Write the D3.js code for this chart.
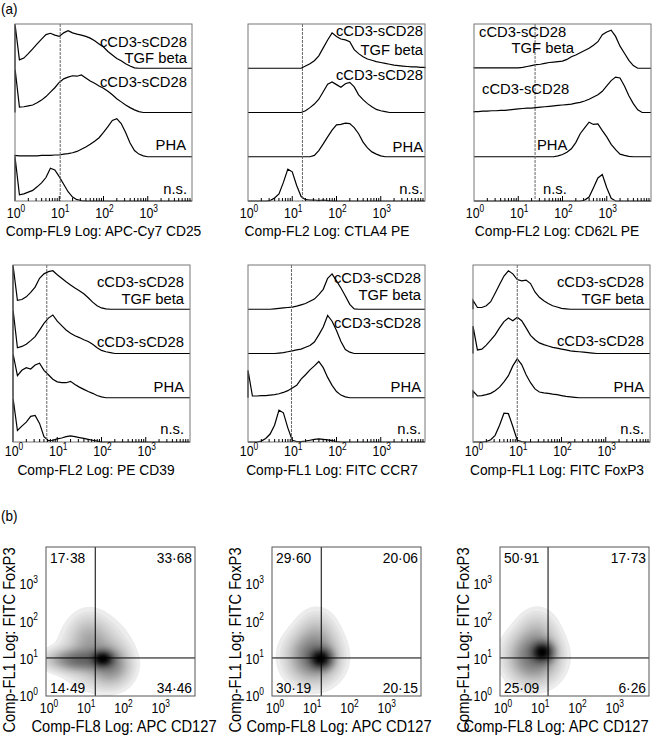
<!DOCTYPE html>
<html><head><meta charset="utf-8">
<script src="https://cdn.jsdelivr.net/npm/d3@7"></script>
<style>
body{margin:0;background:#fff}
svg text{font-family:"Liberation Sans",Arial,Helvetica,sans-serif;fill:#000}
</style>
</head><body>
<svg id="c" width="652" height="741"></svg>
<script>
// ---------------- DATA ----------------
// sampling grid: log10 intensity 0..4 in steps of 0.1 (41 positions)
const logSteps = d3.range(0, 41).map(i => i / 10);
const laneNames = ["cCD3-sCD28 TGF beta", "cCD3-sCD28", "PHA", "n.s."];
const histTitles = ["Comp-FL9 Log: APC-Cy7 CD25", "Comp-FL2 Log: CTLA4 PE", "Comp-FL2 Log: CD62L PE",
                    "Comp-FL2 Log: PE CD39", "Comp-FL1 Log: FITC CCR7", "Comp-FL1 Log: FITC FoxP3"];
const gateLines = [10.5, 17, 24, 5.8, 9.6, 10]; // dashed positive-gate marker
const tickExps = [0, 1, 2, 3];

// histogram heights (fraction of lane height) at logSteps; trailing zeros omitted
const cd25 = [
 [1.0,0.19,0.23,0.33,0.44,0.55,0.66,0.76,0.79,0.75,0.72,0.80,0.85,0.80,0.77,0.75,0.72,0.68,0.62,0.55,0.48,0.38,0.30,0.22,0.17,0.10,0.05,0.01],
 [1.0,0.12,0.13,0.15,0.17,0.22,0.28,0.36,0.46,0.56,0.68,0.76,0.80,0.83,0.82,0.85,0.78,0.71,0.66,0.60,0.55,0.48,0.40,0.31,0.24,0.17,0.11,0.06,0.02],
 [0.03,0.02,0.02,0.02,0.02,0.02,0.03,0.03,0.03,0.04,0.04,0.06,0.07,0.09,0.12,0.17,0.22,0.28,0.35,0.43,0.55,0.68,0.82,0.86,0.75,0.55,0.31,0.14,0.06,0.02],
 [1.0,0.14,0.16,0.20,0.24,0.32,0.41,0.53,0.74,0.70,0.55,0.38,0.21,0.09,0.03,0.01]
];
const ctla4 = [
 [0,0,0,0,0,0,0,0,0,0,0,0,0,0.05,0.10,0.17,0.28,0.46,0.64,0.80,0.72,0.66,0.64,0.60,0.42,0.33,0.26,0.21,0.18,0.15,0.13,0.11,0.09,0.07,0.06,0.05,0.04,0.03,0.03,0.02,0.02],
 [0,0,0,0,0,0,0,0,0,0,0,0,0,0.04,0.11,0.19,0.30,0.47,0.64,0.69,0.63,0.57,0.65,0.68,0.58,0.40,0.29,0.20,0.13,0.07,0.04,0.02],
 [0,0,0,0,0,0,0,0,0,0,0,0,0,0,0,0.03,0.14,0.29,0.45,0.60,0.72,0.73,0.76,0.75,0.66,0.52,0.33,0.20,0.11,0.06,0.02],
 [0,0,0,0,0,0.01,0.07,0.16,0.42,0.72,0.66,0.35,0.10,0.03,0.02,0.02,0.01,0.02,0.01]
];
const cd62l = [
 [0.01,0.01,0.01,0.01,0.01,0.01,0.01,0.01,0.01,0.01,0.01,0.02,0.04,0.06,0.08,0.09,0.11,0.13,0.14,0.15,0.16,0.20,0.26,0.30,0.35,0.40,0.45,0.52,0.60,0.76,0.82,0.86,0.72,0.50,0.34,0.18,0.06],
 [0.02,0.02,0.03,0.03,0.04,0.04,0.05,0.05,0.06,0.07,0.08,0.09,0.10,0.10,0.11,0.12,0.13,0.14,0.15,0.16,0.17,0.18,0.19,0.21,0.23,0.26,0.30,0.35,0.40,0.48,0.60,0.72,0.80,0.78,0.60,0.38,0.20,0.06],
 [0,0,0,0,0,0,0,0,0,0,0,0,0,0,0,0,0,0,0,0.02,0.05,0.10,0.18,0.32,0.52,0.65,0.78,0.73,0.74,0.59,0.45,0.28,0.16,0.06,0.03,0.01],
 [0,0,0,0,0,0,0,0,0,0,0,0,0,0,0,0,0,0,0,0,0,0,0,0,0,0.02,0.09,0.30,0.52,0.60,0.30,0.06]
];
const cd39 = [
 [1.0,0.20,0.22,0.28,0.38,0.50,0.70,0.80,0.85,0.87,0.78,0.70,0.62,0.55,0.48,0.42,0.35,0.26,0.16,0.08,0.03,0.01],
 [1.0,0.13,0.16,0.21,0.29,0.38,0.53,0.68,0.80,0.87,0.73,0.63,0.53,0.46,0.40,0.36,0.31,0.27,0.21,0.13,0.07,0.04,0.02],
 [1.0,0.50,0.62,0.68,0.65,0.74,0.78,0.62,0.52,0.42,0.36,0.34,0.34,0.37,0.30,0.24,0.19,0.14,0.10,0.05,0.02],
 [1.0,0.26,0.36,0.45,0.58,0.60,0.42,0.12,0.03,0.04,0.07,0.09,0.12,0.14,0.12,0.10,0.08,0.06,0.04,0.02]
];
const ccr7 = [
 [0,0,0,0,0,0,0.01,0.02,0.03,0.04,0.05,0.07,0.10,0.13,0.18,0.23,0.33,0.45,0.70,0.80,0.64,0.48,0.30,0.11,0.01],
 [0,0,0,0,0,0,0,0.01,0.02,0.04,0.06,0.08,0.10,0.14,0.18,0.26,0.42,0.60,0.86,0.73,0.52,0.27,0.09,0.03],
 [0.62,0.04,0.04,0.05,0.05,0.06,0.07,0.09,0.12,0.16,0.22,0.28,0.42,0.52,0.63,0.72,0.82,0.68,0.46,0.28,0.14,0.06,0.02],
 [0,0,0,0.02,0.08,0.18,0.38,0.72,0.66,0.32,0.04,0.01,0.01,0.02,0.04,0.06,0.07,0.06,0.05,0.03,0.01]
];
const foxp3 = [
 [0.20,0.04,0.04,0.08,0.17,0.36,0.56,0.75,0.87,0.80,0.67,0.64,0.66,0.58,0.39,0.27,0.19,0.13,0.08,0.05,0.02,0.01],
 [0.62,0.08,0.10,0.19,0.30,0.42,0.58,0.72,0.80,0.74,0.82,0.74,0.58,0.41,0.31,0.24,0.20,0.17,0.14,0.12,0.10,0.08,0.06,0.05,0.04,0.03,0.02,0.01],
 [0.15,0.04,0.05,0.07,0.10,0.16,0.24,0.36,0.50,0.72,0.88,0.75,0.52,0.34,0.20,0.13,0.11,0.10,0.08,0.07,0.05,0.03,0.02,0.01],
 [0,0,0,0.01,0.05,0.15,0.38,0.65,0.64,0.35,0.04,0.01]
];

// panel (b): quadrant percentages [UL, UR, LL, LR]
const quadValues = [
 ["17·38", "33·68", "14·49", "34·46"],
 ["29·60", "20·06", "30·19", "20·15"],
 ["50·91", "17·73", "25·09", "6·26"]
];
const quadGateX = [21, 21, 19.5];
const quadGateY = [10.5, 10.5, 10.5];
// density blobs: [log x centre, log y centre, sd x, sd y, weight]
const densityB1 = [[1.53,1.0,0.17,0.13,1.0],[0.85,0.97,0.45,0.17,0.45],[1.3,1.15,0.45,0.45,0.22],[1.15,1.65,0.3,0.35,0.1],[1.75,0.8,0.3,0.3,0.3]];
const densityB2 = [[1.32,1.0,0.18,0.16,1.0],[1.1,1.05,0.38,0.38,0.45],[1.2,1.7,0.3,0.35,0.1]];
const densityB3 = [[1.15,1.18,0.17,0.16,1.0],[0.9,1.05,0.38,0.38,0.45],[1.0,1.7,0.3,0.35,0.1]];
const scatterXTitle = "Comp-FL8 Log: APC CD127";
const scatterYTitle = "Comp-FL1 Log: FITC FoxP3";

// ---------------- LAYOUT ----------------
const svg = d3.select("#c");
const pad41 = a => a.concat(Array(Math.max(0, 41 - a.length)).fill(0));
const histData = [cd25, ctla4, cd62l, cd39, ccr7, foxp3];

function txt(g, x, y, s, size, sx, anchor, rot) {
  return g.append("text")
    .attr("transform", `translate(${x},${y})${rot ? " rotate(" + rot + ")" : ""} scale(${sx},1)`)
    .attr("text-anchor", anchor || "start").attr("font-size", size).text(s);
}
function tickLabel(g, x, y, e, anchor) {
  const t = g.append("text").attr("transform", `translate(${x},${y}) scale(0.8,1)`)
    .attr("text-anchor", anchor || "middle").attr("font-size", 15.5);
  t.append("tspan").text("10");
  t.append("tspan").attr("dy", -6.5).attr("font-size", 10.5).text(String(e));
  return t;
}

const histLayout = [
 {left:15, top:24, tickY:218, titleY:236, titleX:103.5},
 {left:248, top:24, tickY:218, titleY:236, titleX:327},
 {left:474, top:24, tickY:218, titleY:236, titleX:557},
 {left:13, top:265, tickY:456, titleY:475, titleX:96},
 {left:248, top:265, tickY:456, titleY:475, titleX:332},
 {left:473, top:265, tickY:456, titleY:475, titleX:557}
];
const labelPos = [
 [[187,47,"end"],[187,63,"end"],[187,87,"end"],[186,150,"end"],[187,194,"end"]],
 [[423,36,"end"],[423,55,"end"],[423,80,"end"],[423,152,"end"],[423,194,"end"]],
 [[479,37,"start"],[574,53,"end"],[482,94,"start"],[537,150,"start"],[543,194,"start"]],
 [[184,287,"end"],[184,304,"end"],[184,347,"end"],[184,392,"end"],[184,434,"end"]],
 [[421,283,"end"],[421,300,"end"],[421,328,"end"],[421,392,"end"],[421,434,"end"]],
 [[644,287,"end"],[644,304,"end"],[644,346,"end"],[644,392,"end"],[644,434,"end"]]
];
const labelTexts = ["cCD3-sCD28", "TGF beta", laneNames[1], laneNames[2], laneNames[3]];

txt(svg, 1, 14, "(a)", 15, 0.9);
txt(svg, 1, 521, "(b)", 15, 0.9);

const W = 177, H = 177;
histData.forEach((lanes, p) => {
  const L = histLayout[p];
  const g = svg.append("g");
  const x = d3.scaleLog().domain([1, 1e4]).range([L.left, L.left + W]);
  const laneH = H / 4;
  const line = d3.line().x(d => x(Math.pow(10, d[0]))).y(d => d[1]);
  lanes.forEach((vals, k) => {
    const base = L.top + laneH * (k + 1);
    const y = d3.scaleLinear().domain([0, 1]).range([base, base - laneH]);
    const v = pad41(vals);
    const pts = [[0, y(0)]].concat(logSteps.map((s, i) => [s, y(v[i])])).concat([[4, y(0)]]);
    g.append("path").attr("d", line(pts)).attr("fill", "none").attr("stroke", "#000").attr("stroke-width", 1.2);
  });
  g.append("line").attr("x1", x(gateLines[p])).attr("x2", x(gateLines[p]))
    .attr("y1", L.top).attr("y2", L.top + H).attr("stroke", "#666").attr("stroke-width", 1)
    .attr("stroke-dasharray", "3,1");
  g.append("rect").attr("x", L.left).attr("y", L.top).attr("width", W).attr("height", H)
    .attr("fill", "none").attr("stroke", "#777").attr("stroke-width", 1);
  const ticks = [];
  for (let e = 0; e < 4; e++) for (let m = 1; m <= 9; m++) ticks.push([m * Math.pow(10, e), m === 1 ? 5 : 3]);
  g.selectAll("line.tk").data(ticks.filter(t => t[0] > 1)).join("line")
    .attr("x1", d => x(d[0])).attr("x2", d => x(d[0]))
    .attr("y1", L.top + H).attr("y2", d => L.top + H - d[1]).attr("stroke", "#000").attr("stroke-width", 1);
  tickExps.forEach(e => {
    const xx = Math.max(x(Math.pow(10, e)) + 1, 12);
    tickLabel(g, xx, L.tickY, e);
  });
  txt(g, L.titleX, L.titleY, histTitles[p], 15, 0.92, "middle");
  labelPos[p].forEach((pos, i) => txt(g, pos[0], pos[1], labelTexts[i], 15.5, 0.955, pos[2]));
});

// ---------------- PANEL (b) ----------------
const bLefts = [46, 272, 500], bTop = 547, BW = 149, BH = 149;
const bTitleX = [124, 339, 556];
const blobsAll = [densityB1, densityB2, densityB3];
const defs = svg.append("defs");
blobsAll.forEach((blobs, p) => {
  const left = bLefts[p];
  const x = d3.scaleLog().domain([1, 1e4]).range([left, left + BW]);
  const y = d3.scaleLog().domain([1, 1e4]).range([bTop + BH, bTop]);
  const g = svg.append("g");
  defs.append("clipPath").attr("id", "clip" + p).append("rect")
    .attr("x", left).attr("y", bTop).attr("width", BW).attr("height", BH);
  const n = 160;
  const values = new Float64Array(n * n);
  let max = 0;
  for (let j = 0; j < n; j++) for (let i = 0; i < n; i++) {
    const lx = (i + 0.5) / n * 4, ly = (j + 0.5) / n * 4;
    let v = 0;
    for (const [cx, cy, sx, sy, w] of blobs)
      v += w * Math.exp(-((lx - cx) ** 2 / (2 * sx * sx) + (ly - cy) ** 2 / (2 * sy * sy)));
    values[j * n + i] = v; if (v > max) max = v;
  }
  for (let k = 0; k < values.length; k++) values[k] /= max;
  const contours = d3.contours().size([n, n]).thresholds(d3.range(0.01, 1, 0.01))(values);
  const proj = d3.geoTransform({ point(px, py) {
    this.stream.point(x(Math.pow(10, px / n * 4)), y(Math.pow(10, py / n * 4)));
  }});
  const path = d3.geoPath(proj);
  g.append("g").attr("clip-path", "url(#clip" + p + ")")
    .selectAll("path").data(contours).join("path").attr("d", path)
    .attr("fill", d => d3.interpolateGreys(Math.pow(d.value, 0.42))).attr("stroke", "none");
  g.append("line").attr("x1", x(quadGateX[p])).attr("x2", x(quadGateX[p])).attr("y1", bTop).attr("y2", bTop + BH)
    .attr("stroke", "#000").attr("stroke-width", 1);
  g.append("line").attr("x1", left).attr("x2", left + BW).attr("y1", y(quadGateY[p])).attr("y2", y(quadGateY[p]))
    .attr("stroke", "#000").attr("stroke-width", 1);
  g.append("rect").attr("x", left).attr("y", bTop).attr("width", BW).attr("height", BH)
    .attr("fill", "none").attr("stroke", "#555").attr("stroke-width", 1);
  const q = quadValues[p];
  const qpos = [[left + 4, bTop + 16, "start"], [left + BW - 3, bTop + 16, "end"],
                [left + 4, bTop + BH - 3, "start"], [left + BW - 3, bTop + BH - 3, "end"]];
  q.forEach((s, i) => txt(g, qpos[i][0], qpos[i][1], s, 15, 0.92, qpos[i][2]));
  tickExps.forEach(e => {
    tickLabel(g, x(Math.pow(10, e)) + 3, bTop + BH + 17, e);
    tickLabel(g, left - 8, y(Math.pow(10, e)) + 5, e, "end");
  });
  txt(g, bTitleX[p], 732, scatterXTitle, 16.5, 0.89, "middle");
  txt(g, left - 31, 640, scatterYTitle, 16.5, 0.89, "middle", -90);
});
</script>
</body></html>
